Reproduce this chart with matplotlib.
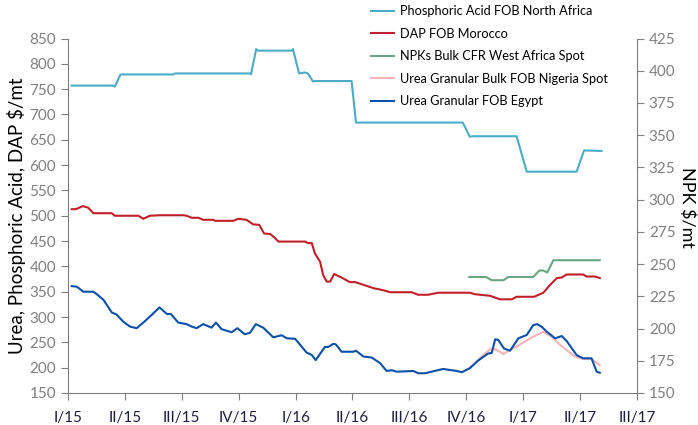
import matplotlib
matplotlib.use('Agg')

import matplotlib.pyplot as plt

plt.rcParams['font.family'] = ['Lato', 'DejaVu Sans']

# x values are weeks since the start of 2015 (13 weeks per quarter)
quarter_labels = ["I/15", "II/15", "III/15", "IV/15", "I/16", "II/16",
                  "III/16", "IV/16", "I/17", "II/17", "III/17"]

phos_weeks = [0.85, 10.3, 10.7, 12.0, 24.0, 24.5, 41.6, 41.8, 43.0, 43.4,
              51.1, 51.4, 52.8, 54.1, 54.8, 56.0, 56.4, 64.8, 65.8, 90.2,
              91.8, 92.5, 102.5, 104.8, 116.2, 117.9, 121.9]
phos_values = [757, 757, 755, 779, 779, 781, 781, 779, 829, 826,
               826, 829, 781, 783, 781, 765, 766, 766, 684, 684,
               656, 657, 657, 587, 587, 629, 628]

dap_weeks = [0.85, 1.8, 3.4, 4.6, 5.8, 10.0, 10.7, 16.1, 17.2, 18.7,
             21.0, 26.3, 27.1, 28.3, 29.8, 30.9, 33.2, 33.6, 37.8, 38.9,
             40.8, 42.3, 43.7, 44.8, 46.2, 46.9, 48.1, 54.2, 54.9, 55.7,
             56.4, 57.6, 58.3, 59.1, 59.9, 60.8, 62.5, 64.4, 65.6, 69.8,
             72.0, 73.6, 78.5, 80.0, 82.3, 84.6, 91.8, 93.0, 96.4, 98.7,
             101.4, 102.5, 106.5, 108.6, 110.1, 111.7, 112.8, 113.9, 117.7, 118.5,
             120.4, 121.5]
dap_values = [513, 513, 519, 516, 505, 505, 500, 500, 494, 500,
              501, 501, 500, 496, 496, 492, 492, 490, 490, 494,
              492, 483, 482, 465, 464, 459, 449, 449, 446, 446,
              426, 409, 383, 370, 370, 385, 378, 369, 369, 357,
              353, 349, 349, 344, 344, 348, 348, 345, 342, 335,
              335, 340, 340, 348, 363, 377, 378, 384, 384, 380,
              380, 377]

npk_weeks = [91.7, 95.5, 96.8, 99.5, 100.6, 106.3, 107.7, 108.6, 109.5, 110.9, 121.5]
npk_values = [240, 240, 237.5, 237.5, 240, 240, 245, 245, 243.5, 253, 253]

nigeria_weeks = [91.8, 94.5, 96.4, 97.6, 99.5, 101.0, 102.5, 105.6, 108.6, 110.5,
                 112.0, 113.9, 115.8, 117.7, 119.6, 121.5]
nigeria_values = [199, 222, 236, 236.5, 227, 235, 241.5, 258, 271, 261,
                  248, 235, 222, 217, 217, 205]

egypt_weeks = [0.85, 2.0, 3.5, 5.8, 6.6, 8.1, 10.0, 11.1, 12.6, 14.2,
               15.7, 17.2, 19.1, 20.9, 22.6, 23.5, 25.2, 27.1, 28.3, 29.4,
               30.9, 32.8, 33.8, 35.1, 37.4, 38.7, 40.4, 41.6, 42.9, 44.6,
               46.9, 48.8, 50.0, 51.9, 54.5, 55.7, 56.6, 58.7, 59.5, 60.6,
               61.2, 62.5, 65.2, 65.8, 67.5, 69.4, 71.3, 72.8, 74.0, 75.1,
               78.9, 80.0, 81.6, 85.7, 88.8, 90.0, 91.8, 93.7, 96.0, 96.8,
               97.6, 98.3, 99.6, 101.0, 102.9, 104.8, 106.3, 107.2, 108.2, 109.4,
               111.3, 112.8, 113.9, 116.2, 117.7, 119.6, 120.8, 121.5]
egypt_values = [361, 360, 350, 350, 345, 334, 309, 305, 291, 281,
                278, 289, 304, 319, 306, 306, 289, 286, 281, 278,
                286, 279, 289, 276, 270, 278, 266, 269, 286, 279,
                260, 264, 258, 257, 230, 225, 215, 241, 241, 247,
                246, 231.5, 231.5, 233.5, 222, 220, 209, 193.5, 195, 192,
                193.5, 189, 189, 197.5, 193.5, 191, 199, 214, 228, 229,
                256, 255, 238, 233.5, 258, 264.5, 284, 286, 281, 271,
                258, 262.5, 253, 225, 218.5, 218.5, 192, 190]

fig = plt.figure(figsize=(6.98, 4.25), dpi=100)
ax = fig.add_axes([0.0974, 0.0753, 0.8152, 0.8341])
ax2 = ax.twinx()

spine_color = '#7f7f7f'
l1, = ax.plot(phos_weeks, phos_values, color='#4bacc6', lw=1.5)
l2, = ax.plot(dap_weeks, dap_values, color='#c0202a', lw=1.5)
l3, = ax2.plot(npk_weeks, npk_values, color='#6aa584', lw=1.5)
l4, = ax.plot(nigeria_weeks, nigeria_values, color='#f4b4b8', lw=1.5)
l5, = ax.plot(egypt_weeks, egypt_values, color='#0b50a8', lw=1.5)

ax.set_xlim(0, 130)
ax.set_ylim(150, 850)
ax2.set_ylim(150, 425)
ax.set_xticks(range(0, 131, 13))
ax.set_xticklabels(quarter_labels)
ax.set_yticks(range(150, 851, 50))
ax2.set_yticks(range(150, 426, 25))

for a in (ax, ax2):
    a.spines['top'].set_visible(False)
    for s in ('left', 'right', 'bottom'):
        a.spines[s].set_color(spine_color)
ax.spines['right'].set_visible(False)
ax2.spines['left'].set_visible(False)
ax2.spines['bottom'].set_visible(False)

ax.tick_params(axis='y', colors=spine_color, labelcolor='#808080',
               labelsize=11, length=5, direction='out')
ax2.tick_params(axis='y', colors=spine_color, labelcolor='#808080',
                labelsize=11, length=5, direction='out')
ax.tick_params(axis='x', colors=spine_color, labelcolor='#1f1f3f',
               labelsize=11, length=5, pad=8)

# axis titles placed by hand so they sit where the original has them
fig.text(17 / 698, 1 - 216 / 425, "Urea, Phosphoric Acid, DAP $/mt",
         fontsize=13.5, rotation=90, ha='center', va='center')
fig.text(687 / 698, 1 - 207 / 425, "NPK $/mt",
         fontsize=13, rotation=270, ha='center', va='center')

fig.legend([l1, l2, l3, l4, l5],
           ["Phosphoric Acid FOB North Africa", "DAP FOB Morocco",
            "NPKs Bulk CFR West Africa Spot", "Urea Granular Bulk FOB Nigeria Spot",
            "Urea Granular FOB Egypt"],
           loc='upper left', bbox_to_anchor=(0.515, 1.015), frameon=False,
           fontsize=9.2, handlelength=1.8, handletextpad=0.45, labelspacing=0.82)

plt.savefig('out.png', dpi=100)
